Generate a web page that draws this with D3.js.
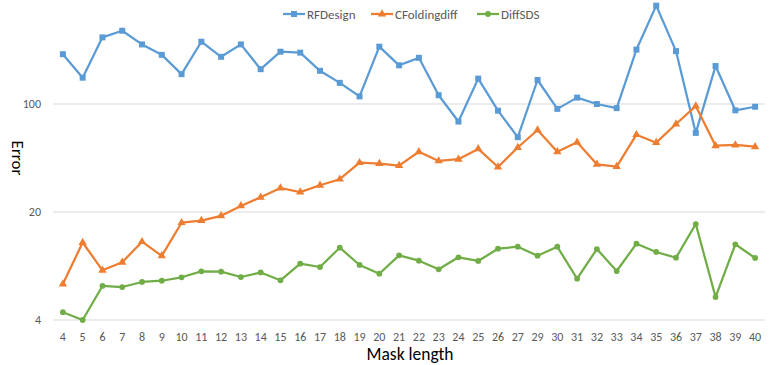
<!DOCTYPE html>
<html><head><meta charset="utf-8">
<script src="https://cdn.jsdelivr.net/npm/d3@7"></script>
<style>body{margin:0;background:#fff;}svg{display:block;font-family:Calibri,Carlito,Lato,"Open Sans",sans-serif;}</style>
</head><body><svg id="c" width="775" height="365"></svg>
<script>
const categories = [4,5,6,7,8,9,10,11,12,13,14,15,16,17,18,19,20,21,22,23,24,25,26,27,29,30,31,32,33,34,35,36,37,38,39,40];
const rfDesign = [210,148,270,298,243,208,156,253,202,243,168,218,215,164,137,112,235,178,199,114,77,146,90.5,61,143,93,110,100,94,225,433,220,65,176,91,96];
const cFoldingdiff = [6.84,12.7,8.39,9.45,12.85,10.4,17.05,17.6,18.9,21.9,24.9,28.6,26.9,29.8,32.6,41.7,41.1,39.9,49.1,42.8,43.9,51.2,39.1,52.3,67.9,49.1,56.5,40.7,39.3,63.3,56.2,74.2,97,53.7,54.3,52.9];
const diffSDS = [4.49,4.0,6.64,6.54,7.05,7.18,7.56,8.26,8.22,7.59,8.12,7.23,9.26,8.81,11.75,9.08,7.97,10.49,9.68,8.52,10.18,9.64,11.57,11.92,10.43,11.92,7.40,11.52,8.30,12.47,11.02,10.12,16.72,5.63,12.36,10.08];
const yTicks = [4,20,100];
const seriesNames = ["RFDesign","CFoldingdiff","DiffSDS"];
const colors = ["#5B9BD5","#ED7D31","#70AD47"];
const series = [rfDesign, cFoldingdiff, diffSDS];
const shapes = [d3.symbolSquare, d3.symbolTriangle, d3.symbolCircle];

const svg = d3.select("#c");
const x = d3.scaleBand().domain(categories).range([53,765]);
const xc = d => x(d) + x.bandwidth()/2;
const y = d3.scaleLog().base(5).domain([4,500]).range([320,-4]);

// gridlines
svg.append("g").selectAll("line").data(yTicks).join("line")
  .attr("x1",53).attr("x2",765).attr("y1",d=>y(d)).attr("y2",d=>y(d))
  .attr("stroke","#d9d9d9").attr("stroke-width",1);

// y tick labels
svg.append("g").selectAll("text").data(yTicks).join("text")
  .attr("x",41).attr("y",d=>y(d)).attr("dy","0.35em").attr("text-anchor","end")
  .attr("font-size",12).attr("fill","#595959").text(d=>d);

// x tick labels
svg.append("g").selectAll("text").data(categories).join("text")
  .attr("x",d=>xc(d)).attr("y",341).attr("text-anchor","middle")
  .attr("font-size",12).attr("fill","#595959").text(d=>d);

// axis titles
svg.append("text").attr("x",410).attr("y",360).attr("text-anchor","middle")
  .attr("font-size",17.5).attr("fill","#000").text("Mask length");
svg.append("text").attr("transform","translate(12,158) rotate(90)").attr("text-anchor","middle")
  .attr("font-size",17).attr("fill","#000").text("Error");

const line = d3.line().x((d,i)=>xc(categories[i])).y(d=>y(d));
series.forEach((s,k)=>{
  const g = svg.append("g");
  g.append("path").datum(s).attr("d",line).attr("fill","none")
    .attr("stroke",colors[k]).attr("stroke-width",2.25).attr("stroke-linejoin","round");
  g.selectAll("path.m").data(s).join("path").attr("class","m")
    .attr("transform",(d,i)=>`translate(${xc(categories[i])},${y(d)})`)
    .attr("d",d3.symbol().type(shapes[k]).size(k===0?36:(k===1?30:26)))
    .attr("fill",colors[k]);
});

// legend
const legX = [283,371,477];
seriesNames.forEach((n,k)=>{
  const g = svg.append("g").attr("transform",`translate(${legX[k]},14)`);
  g.append("line").attr("x1",0).attr("x2",22).attr("stroke",colors[k]).attr("stroke-width",2.25);
  g.append("path").attr("transform","translate(11,0)")
    .attr("d",d3.symbol().type(shapes[k]).size(k===0?36:(k===1?30:26))).attr("fill",colors[k]);
  g.append("text").attr("x",24).attr("dy","0.35em").attr("font-size",13).attr("fill","#595959").text(n);
});
</script></body></html>
